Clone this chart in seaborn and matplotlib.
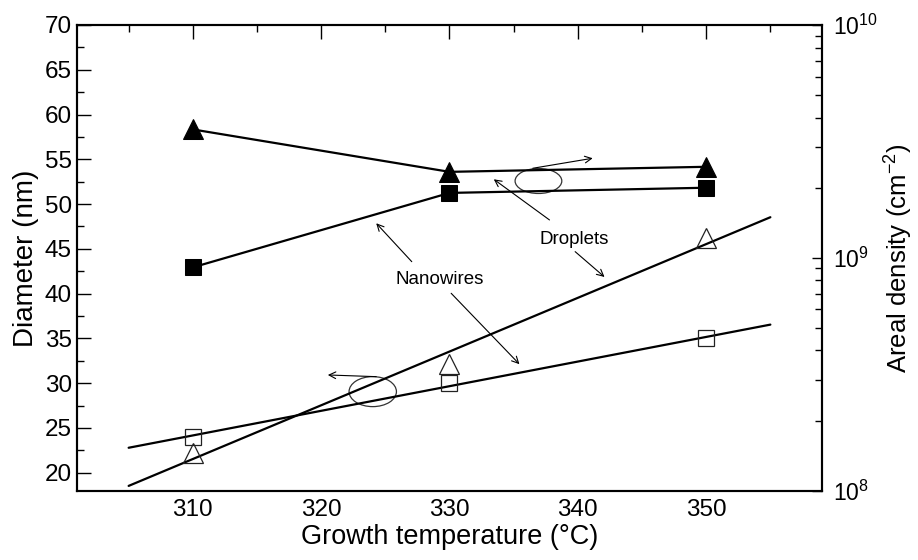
import numpy as np
import matplotlib
matplotlib.use("Agg")
import matplotlib.pyplot as plt
from matplotlib.patches import Ellipse
from matplotlib.ticker import MultipleLocator, LogLocator
import seaborn as sns

# ---- data ----
temps = [310, 330, 350]
nanowire_diameter = [24.0, 30.0, 35.0]      # open squares (left axis)
droplet_diameter = [22.2, 32.2, 46.2]       # open triangles (left axis)
nanowire_density = [9.1e8, 1.9e9, 2.0e9]    # filled squares (right axis)
droplet_density = [3.56e9, 2.34e9, 2.46e9]  # filled triangles (right axis)
fit_range = [305, 355]
x_ticks = [310, 320, 330, 340, 350]
y_ticks = [20, 25, 30, 35, 40, 45, 50, 55, 60, 65, 70]

sns.set_theme(style="white")
plt.rcParams["font.family"] = ["Liberation Sans", "DejaVu Sans"]
plt.rcParams["mathtext.default"] = "regular"
plt.rcParams["text.color"] = "black"
plt.rcParams["axes.labelcolor"] = "black"
plt.rcParams["xtick.color"] = "black"
plt.rcParams["ytick.color"] = "black"

fig = plt.figure(figsize=(9.18, 5.60), dpi=100)
ax = fig.add_axes([0.0842, 0.1238, 0.8109, 0.8316])
ax2 = ax.twinx()

# fitted lines for diameters
fx = np.array(fit_range, dtype=float)
for d in (nanowire_diameter, droplet_diameter):
    c = np.polyfit(temps, d, 1)
    sns.lineplot(x=fx, y=np.polyval(c, fx), ax=ax, color="black", linewidth=1.6)

sns.lineplot(x=temps, y=nanowire_diameter, ax=ax, marker="s", linestyle="",
             markersize=12, markerfacecolor="none", markeredgecolor="#222222",
             markeredgewidth=0.9)
sns.lineplot(x=temps, y=droplet_diameter, ax=ax, marker="^", linestyle="",
             markersize=14, markerfacecolor="none", markeredgecolor="#222222",
             markeredgewidth=0.9)

sns.lineplot(x=temps, y=nanowire_density, ax=ax2, marker="s", color="black",
             linewidth=1.6, markersize=12, markerfacecolor="black",
             markeredgecolor="black")
sns.lineplot(x=temps, y=droplet_density, ax=ax2, marker="^", color="black",
             linewidth=1.6, markersize=14, markerfacecolor="black",
             markeredgecolor="black")

ax.set_xlim(301, 359)
ax.set_ylim(18, 70)
ax2.set_yscale("log")
ax2.set_ylim(1e8, 1e10)

ax.set_xticks(x_ticks)
ax.xaxis.set_minor_locator(MultipleLocator(5))
ax.set_yticks(y_ticks)
ax.yaxis.set_minor_locator(MultipleLocator(2.5))
ax2.yaxis.set_major_locator(LogLocator(base=10))
ax2.yaxis.set_minor_locator(LogLocator(base=10, subs=np.arange(2, 10)))

ax.tick_params(axis="both", which="both", direction="in", top=True, right=False,
               colors="black", labelsize=17.5)
ax.tick_params(axis="x", which="major", length=10, width=1, pad=6)
ax.tick_params(axis="x", which="minor", length=5, width=1)
ax.tick_params(axis="y", which="major", length=10, width=1, pad=4)
ax.tick_params(axis="y", which="minor", length=5, width=1)
ax2.tick_params(axis="y", which="major", direction="in", length=7, width=1,
                labelsize=16.5, pad=8, left=False, colors="black")
ax2.tick_params(axis="y", which="minor", direction="in", length=5, width=1,
                left=False, colors="black")

for a in (ax, ax2):
    for s in a.spines.values():
        s.set_color("black")
        s.set_linewidth(1.5)

ax.set_xlabel("Growth temperature (°C)", fontsize=19.5, labelpad=2, color="black")
ax.set_ylabel("Diameter (nm)", fontsize=20, labelpad=4, color="black")
ax2.set_ylabel("Areal density (cm$^{-2}$)", fontsize=18.5, labelpad=4, color="black")

# ---- annotations ----
arrow = dict(arrowstyle="->", color="black", lw=0.8, shrinkA=0, shrinkB=0,
             mutation_scale=12)
ax.add_patch(Ellipse((336.93, 52.58), 3.64, 2.79, fill=False, ec="#333333", lw=0.9))
ax.annotate("", xy=(341.16, 55.12), xytext=(336.49, 54.0), arrowprops=arrow)
ax.add_patch(Ellipse((324.02, 29.06), 3.69, 3.35, fill=False, ec="#333333", lw=0.9))
ax.annotate("", xy=(320.52, 30.92), xytext=(324.29, 30.73), arrowprops=arrow)

ax.text(329.22, 41.53, "Nanowires", fontsize=13.5, ha="center", va="center", color="black")
ax.annotate("", xy=(324.29, 47.86), xytext=(327.06, 43.57), arrowprops=arrow)
ax.annotate("", xy=(335.45, 32.12), xytext=(330.13, 40.04), arrowprops=arrow)

ax.text(339.70, 46.0, "Droplets", fontsize=13.5, ha="center", va="center", color="black")
ax.annotate("", xy=(333.45, 52.77), xytext=(337.79, 48.23), arrowprops=arrow)
ax.annotate("", xy=(342.08, 41.86), xytext=(339.79, 44.69), arrowprops=arrow)

fig.savefig("out.png", dpi=100)
